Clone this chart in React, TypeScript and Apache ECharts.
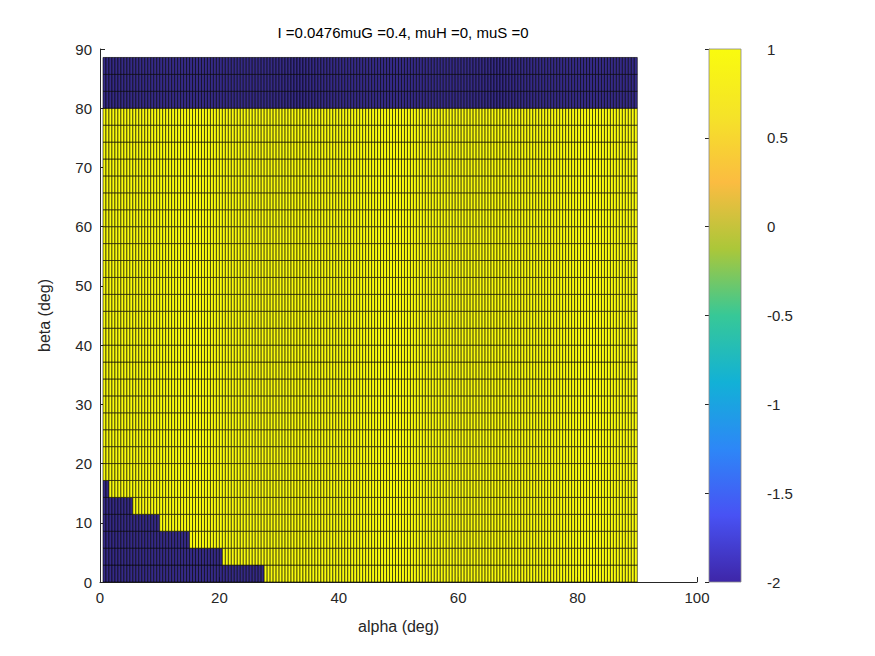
import { useEffect, useRef } from "react";
import * as echarts from "echarts";

// cell edges
const alphaStep = 0.5;
const alphaStart = 0.5;
const alphaCount = 179;
const betaStep = 80 / 28;
const betaCount = 31;
// blue (value -2) extends up to this alpha in each bottom row, else yellow (1)
const blueUntil = [27.5, 20.5, 15, 10, 5.5, 1.5];
const topBlueFromRow = 28;
const title = "I =0.0476muG =0.4, muH =0, muS =0";
const xTicks = [0, 20, 40, 60, 80, 100];
const yTicks = [0, 10, 20, 30, 40, 50, 60, 70, 80, 90];
const cbTicks = [-2, -1.5, -1, -0.5, 0, 0.5, 1];

const parula = ["#3e26a8", "#4852f4", "#2d87f7", "#12b1d6", "#37c897", "#abc739", "#fbbc41", "#f5e328", "#f9fb0e"];
const BLUE = "#352a87";
const YELLOW = "#f9fb0e";

const cells: number[][] = [];
for (let r = 0; r < betaCount; r++) {
  for (let c = 0; c < alphaCount; c++) {
    const a0 = alphaStart + c * alphaStep;
    const a1 = a0 + alphaStep;
    let v = 1;
    if (r >= topBlueFromRow) v = -2;
    else if (r < blueUntil.length && a1 <= blueUntil[r] + 0.01) v = -2;
    cells.push([a0, a1, r * betaStep, (r + 1) * betaStep, v]);
  }
}

const font = "Liberation Sans, Arial, sans-serif";
const tickColor = "#262626";

export default function App() {
  const ref = useRef<HTMLDivElement | null>(null);
  useEffect(() => {
    if (!ref.current) return;
    const chart = echarts.init(ref.current, undefined, { renderer: "svg" });
    chart.setOption({
      animation: false,
      backgroundColor: "#fff",
      textStyle: { fontFamily: font },
      title: {
        text: title,
        left: 398,
        textAlign: "center",
        top: 20,
        textStyle: { fontFamily: font, fontSize: 15, fontWeight: "normal", color: "#000" },
      },
      grid: [
        { left: 100, right: 178, top: 49, bottom: 74 },
        { left: 709, right: 134, top: 49, bottom: 74 },
      ],
      xAxis: [
        {
          type: "value", min: 0, max: 100, interval: 20,
          name: "alpha (deg)", nameLocation: "middle", nameGap: 36,
          nameTextStyle: { fontSize: 16, color: tickColor, fontFamily: font },
          axisLine: { lineStyle: { color: tickColor } },
          axisTick: { inside: true, length: 5, lineStyle: { color: tickColor } },
          axisLabel: { fontSize: 15, color: tickColor, fontFamily: font },
          splitLine: { show: false },
          data: xTicks,
        },
        { type: "value", gridIndex: 1, min: 0, max: 1, show: false },
      ],
      yAxis: [
        {
          type: "value", min: 0, max: 90, interval: 10,
          name: "beta (deg)", nameLocation: "middle", nameGap: 48,
          nameTextStyle: { fontSize: 16, color: tickColor, fontFamily: font },
          axisLine: { show: true, lineStyle: { color: tickColor } },
          axisTick: { show: true, inside: true, length: 5, lineStyle: { color: tickColor } },
          axisLabel: { fontSize: 15, color: tickColor, fontFamily: font },
          splitLine: { show: false },
          data: yTicks,
        },
        {
          type: "value", gridIndex: 1, min: -2, max: 1, interval: 0.5, position: "right",
          axisLine: { show: true, lineStyle: { color: "#888" } },
          axisTick: { show: true, inside: true, length: 4, lineStyle: { color: tickColor } },
          axisLabel: { fontSize: 15, color: tickColor, fontFamily: font, margin: 26 },
          splitLine: { show: false },
          data: cbTicks,
        },
      ],
      series: [
        {
          type: "custom",
          data: cells,
          encode: { x: [0, 1], y: [2, 3] },
          renderItem: (_p: any, api: any) => {
            const p0 = api.coord([api.value(0), api.value(2)]);
            const p1 = api.coord([api.value(1), api.value(3)]);
            return {
              type: "rect",
              shape: { x: p0[0], y: p1[1], width: p1[0] - p0[0], height: p0[1] - p1[1] },
              style: { fill: api.value(4) < 0 ? BLUE : YELLOW, stroke: "#000", lineWidth: 0.6 },
            };
          },
        },
        {
          type: "custom",
          xAxisIndex: 1,
          yAxisIndex: 1,
          data: [[0, 1, -2, 1]],
          renderItem: (_p: any, api: any) => {
            const p0 = api.coord([api.value(0), api.value(2)]);
            const p1 = api.coord([api.value(1), api.value(3)]);
            return {
              type: "rect",
              shape: { x: p0[0], y: p1[1], width: p1[0] - p0[0], height: p0[1] - p1[1] },
              style: {
                fill: new echarts.graphic.LinearGradient(0, 1, 0, 0,
                  parula.map((c, i) => ({ offset: i / (parula.length - 1), color: c }))),
                stroke: "#888",
                lineWidth: 0.8,
              },
            };
          },
        },
      ],
    });
    return () => chart.dispose();
  }, []);
  return <div ref={ref} style={{ width: 875, height: 656, margin: -8 }} />;
}
